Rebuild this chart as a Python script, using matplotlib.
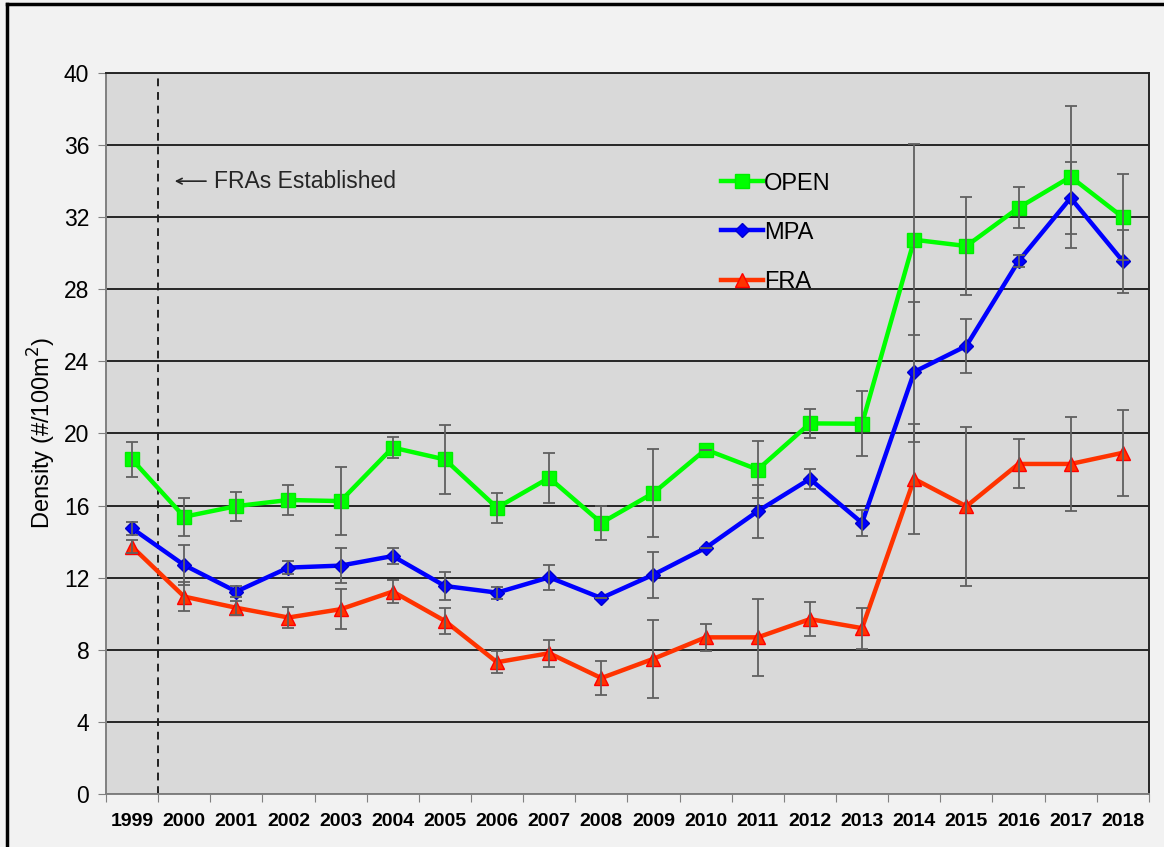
import matplotlib
matplotlib.use('Agg')
import matplotlib.pyplot as plt
import numpy as np

plt.rcParams['font.family'] = ['Liberation Sans', 'DejaVu Sans']

years = ['1999', '2000', '2001', '2002', '2003', '2004', '2005', '2006', '2007', '2008',
         '2009', '2010', '2011', '2012', '2013', '2014', '2015', '2016', '2017', '2018']

open_mean = [18.56, 15.38, 15.97, 16.31, 16.25, 19.22, 18.56, 15.88, 17.54, 15.04,
             16.70, 19.11, 18.00, 20.56, 20.54, 30.75, 30.40, 32.52, 34.24, 32.00]
open_err = [0.95, 1.05, 0.80, 0.85, 1.90, 0.60, 1.90, 0.83, 1.37, 0.93,
            2.45, 0.0, 1.57, 0.80, 1.80, 5.30, 2.70, 1.13, 3.93, 2.37]

mpa_mean = [14.74, 12.70, 11.23, 12.56, 12.67, 13.20, 11.54, 11.17, 12.02, 10.87,
            12.17, 13.65, 15.69, 17.48, 15.04, 23.42, 24.86, 29.56, 33.07, 29.56]
mpa_err = [0.37, 1.10, 0.30, 0.35, 0.97, 0.45, 0.77, 0.33, 0.69, 0.0,
           1.27, 0.0, 1.47, 0.56, 0.70, 3.90, 1.50, 0.35, 2.00, 1.75]

fra_mean = [13.72, 10.95, 10.33, 9.79, 10.25, 11.23, 9.60, 7.31, 7.81, 6.43,
            7.50, 8.69, 8.69, 9.70, 9.20, 17.48, 15.96, 18.31, 18.31, 18.93]
fra_err = [0.37, 0.80, 0.40, 0.58, 1.10, 0.65, 0.72, 0.60, 0.75, 0.96,
           2.15, 0.76, 2.13, 0.94, 1.13, 3.07, 4.40, 1.36, 2.60, 2.40]

x = np.arange(len(years))

fig = plt.figure(figsize=(11.64, 8.47), dpi=100)
fig.patch.set_facecolor('#f2f2f2')
# outer frame (left and top edges visible in the original crop)
fig.add_artist(plt.Line2D([0.006, 0.006], [0, 0.995], color='black', lw=2.5,
                          transform=fig.transFigure))
fig.add_artist(plt.Line2D([0.006, 1.0], [0.995, 0.995], color='black', lw=2.5,
                          transform=fig.transFigure))

ax = fig.add_axes([0.091, 0.0626, 0.896, 0.8512])
ax.set_facecolor('#d9d9d9')

series = [
    ('OPEN', open_mean, open_err, '#00ff00', 's', 10, '#00ee00'),
    ('MPA', mpa_mean, mpa_err, '#0000ff', 'D', 7.5, '#0000cc'),
    ('FRA', fra_mean, fra_err, '#ff3300', '^', 9.5, '#ff0000'),
]
for name, m, e, c, mk, ms, ec in series:
    ax.plot(x, m, color=c, lw=3.2, marker=mk, markersize=ms,
            markerfacecolor=c, markeredgecolor=ec, label=name, zorder=3)
for name, m, e, c, mk, ms, ec in series:
    ax.errorbar(x, m, yerr=e, fmt='none', ecolor='#606060', elinewidth=1.3,
                capsize=4, capthick=1.3, zorder=4)

ax.set_xlim(-0.5, len(years) - 0.5)
ax.set_ylim(0, 40)
ax.set_yticks(np.arange(0, 41, 4))
ax.yaxis.grid(True, color='#262626', lw=1.4)
ax.set_axisbelow(True)

# category axis: ticks between categories, labels at centres
ax.set_xticks(np.arange(-0.5, len(years), 1.0))
ax.set_xticklabels([])
ax.set_xticks(x, minor=True)
ax.set_xticklabels(years, minor=True, fontsize=14, fontweight='bold')
ax.tick_params(axis='x', which='major', length=6, color='#808080', direction='out')
ax.tick_params(axis='x', which='minor', length=0, pad=14)
ax.tick_params(axis='y', length=6, color='#808080', labelsize=16.5, pad=6)

ax.spines['left'].set_color('#808080')
ax.spines['bottom'].set_color('#808080')
ax.spines['right'].set_color('#262626')
ax.spines['top'].set_color('#262626')
for s in ax.spines.values():
    s.set_linewidth(1.4)

ax.set_ylabel('Density (#/100m$^2$)', fontsize=17, labelpad=4)

ax.axvline(0.5, color='#202020', lw=1.4, ls=(0, (4, 3)), zorder=2)
ax.annotate('', xy=(0.82, 34.0), xytext=(1.42, 34.0),
            arrowprops=dict(arrowstyle='->', color='#262626', lw=1.2,
                            shrinkA=0, shrinkB=0))
ax.text(1.58, 34.0, 'FRAs Established', fontsize=16.5, va='center',
        color='#262626')

leg = ax.legend(loc='upper left', bbox_to_anchor=(0.59, 0.862), frameon=False,
                fontsize=17, handlelength=1.75, handletextpad=0.05,
                labelspacing=1.15, borderaxespad=0, borderpad=0)

plt.savefig('out.png', dpi=100, facecolor=fig.get_facecolor())
plt.close(fig)
